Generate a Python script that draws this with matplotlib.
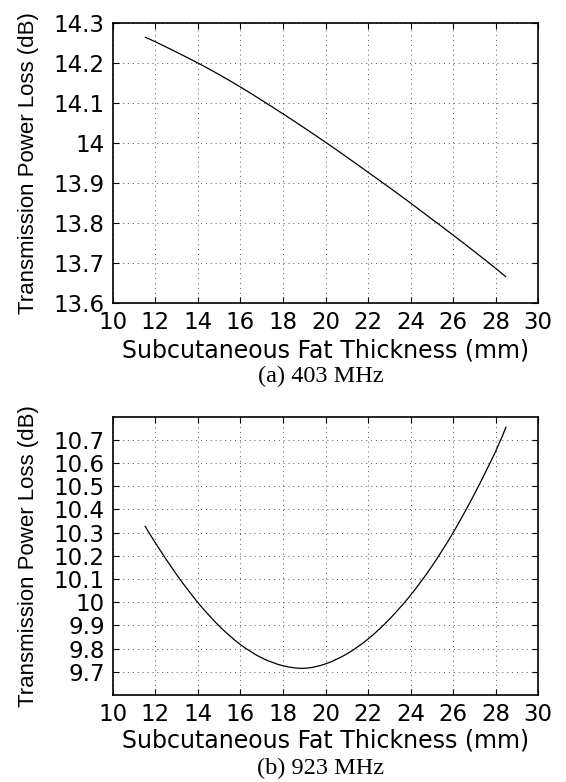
import matplotlib
matplotlib.use('Agg')
import matplotlib.pyplot as plt
from matplotlib.ticker import FuncFormatter
from matplotlib.path import Path
from matplotlib.patches import PathPatch

# fat thickness (mm) and transmission power loss (dB)
thickness = [11.5, 12, 13, 14, 15, 16, 17, 18, 19, 20, 21, 22, 23, 24, 25, 26, 27, 28, 28.5]
loss_403 = [14.265, 14.253, 14.227, 14.200, 14.171, 14.140, 14.107, 14.073, 14.038, 14.002,
            13.965, 13.927, 13.889, 13.850, 13.810, 13.770, 13.729, 13.687, 13.665]
loss_923 = [10.329, 10.255, 10.118, 9.998, 9.897, 9.817, 9.760, 9.726, 9.715, 9.734,
            9.777, 9.841, 9.926, 10.030, 10.154, 10.299, 10.465, 10.649, 10.757]

x_ticks = [10, 12, 14, 16, 18, 20, 22, 24, 26, 28, 30]
y_ticks_403 = [13.6, 13.7, 13.8, 13.9, 14.0, 14.1, 14.2, 14.3]
y_ticks_923 = [9.7, 9.8, 9.9, 10.0, 10.1, 10.2, 10.3, 10.4, 10.5, 10.6, 10.7]

x_label = 'Subcutaneous Fat Thickness (mm)'
y_label = 'Transmission Power Loss (dB)'
captions = ['(a) 403 MHz', '(b) 923 MHz']

plt.rcParams['font.family'] = ['DejaVu Sans']


def smooth_curve(ax, x, y):
    # catmull-rom through the read points, drawn as a bezier path in data coords
    n = len(x)
    verts = [(x[0], y[0])]
    codes = [Path.MOVETO]
    for i in range(n - 1):
        a = max(i - 1, 0)
        b = min(i + 2, n - 1)
        c1 = (x[i] + (x[i + 1] - x[a]) / 6, y[i] + (y[i + 1] - y[a]) / 6)
        c2 = (x[i + 1] - (x[b] - x[i]) / 6, y[i + 1] - (y[b] - y[i]) / 6)
        verts += [c1, c2, (x[i + 1], y[i + 1])]
        codes += [Path.CURVE4] * 3
    ax.add_patch(PathPatch(Path(verts, codes), fill=False, edgecolor='black',
                           linewidth=0.9, zorder=3))


def style_axes(ax, yticks, ylim, xpad):
    ax.set_xlim(10, 30)
    ax.set_ylim(*ylim)
    ax.set_xticks(x_ticks)
    ax.set_yticks(yticks)
    ax.yaxis.set_major_formatter(FuncFormatter(lambda v, p: '%g' % round(v, 2)))
    ax.tick_params(direction='in', top=True, right=True, length=4, width=0.8,
                   labelsize=16.5, pad=6)
    ax.grid(True, color='#555555', linestyle=(0, (1, 4)), linewidth=0.7)
    for s in ax.spines.values():
        s.set_linewidth(1.2)
    ax.set_xlabel(x_label, fontsize=17, labelpad=xpad)
    ax.set_ylabel(y_label, fontsize=16, family='Liberation Sans')
    ax.yaxis.set_label_coords(-0.174, 0.5)


fig = plt.figure(figsize=(5.66, 7.82), dpi=100)
ax1 = fig.add_axes([0.1996, 0.6125, 0.751, 0.358])
ax2 = fig.add_axes([0.1996, 0.1113, 0.751, 0.356])

smooth_curve(ax1, thickness, loss_403)
style_axes(ax1, y_ticks_403, (13.6, 14.3), 3)

smooth_curve(ax2, thickness, loss_923)
style_axes(ax2, y_ticks_923, (9.6, 10.8), 1.5)

fig.text(321 / 566, 1 - 376 / 782, captions[0], ha='center', va='center',
         fontsize=17.5, family='Liberation Serif')
fig.text(321 / 566, 1 - 768 / 782, captions[1], ha='center', va='center',
         fontsize=17.5, family='Liberation Serif')

fig.savefig('out.png', dpi=100)
